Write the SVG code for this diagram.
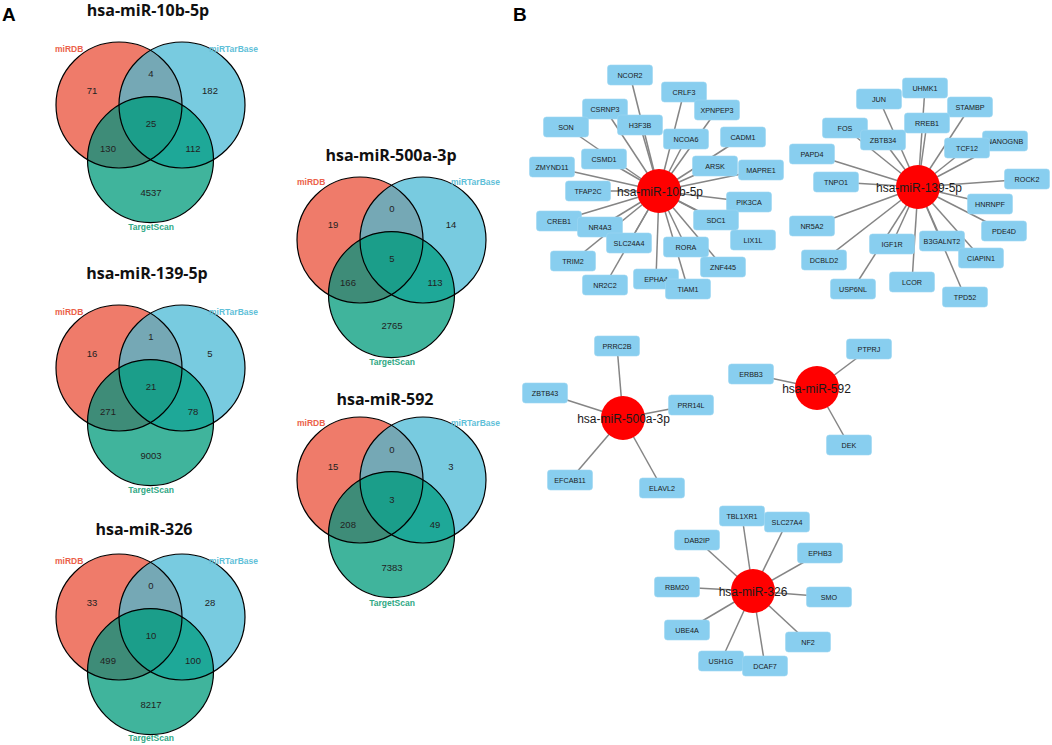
<svg xmlns="http://www.w3.org/2000/svg" xmlns:xlink="http://www.w3.org/1999/xlink" width="1052" height="745" viewBox="0 0 1052 745">
<style>
.panel{font-family:"Liberation Sans",Arial,sans-serif;font-weight:bold;font-size:19px;fill:#000}
.title{font-family:"Open Sans","Liberation Sans",sans-serif;font-weight:bold;font-size:16px;fill:#111;text-anchor:middle}
.num{font-family:"Liberation Sans",Arial,sans-serif;font-size:9.5px;fill:#222;text-anchor:middle}
.lr{font-family:"Liberation Sans",Arial,sans-serif;font-weight:bold;font-size:8.5px;fill:#EB5F4A}
.lb{font-family:"Liberation Sans",Arial,sans-serif;font-weight:bold;font-size:8.5px;fill:#5FC0D8}
.lg{font-family:"Liberation Sans",Arial,sans-serif;font-weight:bold;font-size:8.5px;fill:#2FA884;text-anchor:middle}
.ol{fill:none;stroke:#000;stroke-width:1.2}
.edge{stroke:#858585;stroke-width:1.5}
.gene{fill:#88CEEF;stroke:#9ED6F2;stroke-width:0.6}
.gt{font-family:"Liberation Sans",Arial,sans-serif;font-size:7.2px;fill:#1a1a1a;text-anchor:middle}
.mir{fill:#FF0000}
.mt{font-family:"Liberation Sans",Arial,sans-serif;font-size:12px;fill:#1a1a1a;text-anchor:middle}
</style>
<defs>
<clipPath id="cR" clipPathUnits="userSpaceOnUse"><circle cx="0" cy="0" r="63"/></clipPath>
<clipPath id="cB" clipPathUnits="userSpaceOnUse"><circle cx="63" cy="0" r="63"/></clipPath>
<g id="vshape">
<circle cx="0" cy="0" r="63" fill="#EF7B6A"/>
<circle cx="63" cy="0" r="63" fill="#78CBE0"/>
<circle cx="31.5" cy="54.6" r="63" fill="#40B49C"/>
<circle cx="63" cy="0" r="63" fill="#75A8B5" clip-path="url(#cR)"/>
<circle cx="31.5" cy="54.6" r="63" fill="#3E8C78" clip-path="url(#cR)"/>
<circle cx="31.5" cy="54.6" r="63" fill="#1EA898" clip-path="url(#cB)"/>
<g clip-path="url(#cR)"><circle cx="31.5" cy="54.6" r="63" fill="#1B9E8A" clip-path="url(#cB)"/></g>
<circle class="ol" cx="0" cy="0" r="63"/>
<circle class="ol" cx="63" cy="0" r="63"/>
<circle class="ol" cx="31.5" cy="54.6" r="63"/>
</g>
</defs>
<rect width="1052" height="745" fill="#fff"/>
<text class="panel" x="2" y="21">A</text>
<text class="panel" x="513" y="21">B</text>

<g id="venn-10b" transform="translate(119,105)">
<text class="title" x="29" y="-89">hsa-miR-10b-5p</text>
<use xlink:href="#vshape" href="#vshape"/>
<text class="lr" x="-64" y="-53">miRDB</text>
<text class="lb" x="90" y="-53">miRTarBase</text>
<text class="lg" x="32" y="125">TargetScan</text>
<text class="num" x="-27" y="-11.5">71</text>
<text class="num" x="32" y="-28.5">4</text>
<text class="num" x="91" y="-11.5">182</text>
<text class="num" x="32" y="21.5">25</text>
<text class="num" x="-11" y="46.5">130</text>
<text class="num" x="74" y="46.5">112</text>
<text class="num" x="32" y="90.5">4537</text>
</g>

<g id="venn-139" transform="translate(119,368)">
<text class="title" x="28" y="-89">hsa-miR-139-5p</text>
<use xlink:href="#vshape" href="#vshape"/>
<text class="lr" x="-64" y="-53">miRDB</text>
<text class="lb" x="90" y="-53">miRTarBase</text>
<text class="lg" x="32" y="125">TargetScan</text>
<text class="num" x="-27" y="-11.5">16</text>
<text class="num" x="32" y="-28.5">1</text>
<text class="num" x="91" y="-11.5">5</text>
<text class="num" x="32" y="21.5">21</text>
<text class="num" x="-11" y="46.5">271</text>
<text class="num" x="74" y="46.5">78</text>
<text class="num" x="32" y="90.5">9003</text>
</g>

<g id="venn-326" transform="translate(119,617)">
<text class="title" x="25" y="-82">hsa-miR-326</text>
<use xlink:href="#vshape" href="#vshape"/>
<text class="lr" x="-64" y="-53">miRDB</text>
<text class="lb" x="90" y="-53">miRTarBase</text>
<text class="lg" x="32" y="124">TargetScan</text>
<text class="num" x="-27" y="-11.5">33</text>
<text class="num" x="32" y="-28.5">0</text>
<text class="num" x="91" y="-11.5">28</text>
<text class="num" x="32" y="21.5">10</text>
<text class="num" x="-11" y="46.5">499</text>
<text class="num" x="74" y="46.5">100</text>
<text class="num" x="32" y="90.5">8217</text>
</g>

<g id="venn-500a" transform="translate(360,240)">
<text class="title" x="31" y="-79">hsa-miR-500a-3p</text>
<use xlink:href="#vshape" href="#vshape"/>
<text class="lr" x="-63" y="-55">miRDB</text>
<text class="lb" x="91" y="-55">miRTarBase</text>
<text class="lg" x="32" y="125">TargetScan</text>
<text class="num" x="-27" y="-12.5">19</text>
<text class="num" x="32" y="-28.5">0</text>
<text class="num" x="91" y="-12.5">14</text>
<text class="num" x="32" y="21.5">5</text>
<text class="num" x="-12" y="45.5">166</text>
<text class="num" x="75" y="45.5">113</text>
<text class="num" x="32" y="88.5">2765</text>
</g>

<g id="venn-592" transform="translate(360,480)">
<text class="title" x="25" y="-75">hsa-miR-592</text>
<use xlink:href="#vshape" href="#vshape"/>
<text class="lr" x="-63" y="-54">miRDB</text>
<text class="lb" x="91" y="-54">miRTarBase</text>
<text class="lg" x="32" y="126">TargetScan</text>
<text class="num" x="-27" y="-10.5">15</text>
<text class="num" x="32" y="-27.5">0</text>
<text class="num" x="91" y="-10.5">3</text>
<text class="num" x="32" y="22.5">3</text>
<text class="num" x="-12" y="47.5">208</text>
<text class="num" x="75" y="47.5">49</text>
<text class="num" x="32" y="90.5">7383</text>
</g>

<g id="edges">
<line class="edge" x1="659" y1="191" x2="630" y2="75"/>
<line class="edge" x1="659" y1="191" x2="684" y2="92"/>
<line class="edge" x1="659" y1="191" x2="717" y2="110"/>
<line class="edge" x1="659" y1="191" x2="605" y2="109"/>
<line class="edge" x1="659" y1="191" x2="640" y2="125"/>
<line class="edge" x1="659" y1="191" x2="566" y2="127"/>
<line class="edge" x1="659" y1="191" x2="686" y2="139"/>
<line class="edge" x1="659" y1="191" x2="743" y2="137"/>
<line class="edge" x1="659" y1="191" x2="604" y2="159"/>
<line class="edge" x1="659" y1="191" x2="552" y2="167"/>
<line class="edge" x1="659" y1="191" x2="715" y2="166"/>
<line class="edge" x1="659" y1="191" x2="761" y2="170"/>
<line class="edge" x1="659" y1="191" x2="588" y2="191"/>
<line class="edge" x1="659" y1="191" x2="749" y2="202"/>
<line class="edge" x1="659" y1="191" x2="559" y2="221"/>
<line class="edge" x1="659" y1="191" x2="600" y2="227"/>
<line class="edge" x1="659" y1="191" x2="716" y2="220"/>
<line class="edge" x1="659" y1="191" x2="753" y2="240"/>
<line class="edge" x1="659" y1="191" x2="629" y2="243"/>
<line class="edge" x1="659" y1="191" x2="686" y2="247"/>
<line class="edge" x1="659" y1="191" x2="573" y2="261"/>
<line class="edge" x1="659" y1="191" x2="723" y2="267"/>
<line class="edge" x1="659" y1="191" x2="656" y2="279"/>
<line class="edge" x1="659" y1="191" x2="605" y2="285"/>
<line class="edge" x1="659" y1="191" x2="688" y2="289"/>

<line class="edge" x1="918" y1="187" x2="925" y2="88"/>
<line class="edge" x1="918" y1="187" x2="879" y2="99"/>
<line class="edge" x1="918" y1="187" x2="970" y2="107"/>
<line class="edge" x1="918" y1="187" x2="927" y2="123"/>
<line class="edge" x1="918" y1="187" x2="845" y2="128"/>
<line class="edge" x1="918" y1="187" x2="883" y2="140"/>
<line class="edge" x1="918" y1="187" x2="1005" y2="141"/>
<line class="edge" x1="918" y1="187" x2="967" y2="148"/>
<line class="edge" x1="918" y1="187" x2="812" y2="154"/>
<line class="edge" x1="918" y1="187" x2="836" y2="182"/>
<line class="edge" x1="918" y1="187" x2="1027" y2="179"/>
<line class="edge" x1="918" y1="187" x2="990" y2="204"/>
<line class="edge" x1="918" y1="187" x2="812" y2="226"/>
<line class="edge" x1="918" y1="187" x2="1004" y2="231"/>
<line class="edge" x1="918" y1="187" x2="892" y2="244"/>
<line class="edge" x1="918" y1="187" x2="942" y2="241"/>
<line class="edge" x1="918" y1="187" x2="824" y2="260"/>
<line class="edge" x1="918" y1="187" x2="981" y2="258"/>
<line class="edge" x1="918" y1="187" x2="853" y2="289"/>
<line class="edge" x1="918" y1="187" x2="912" y2="282"/>
<line class="edge" x1="918" y1="187" x2="965" y2="297"/>

<line class="edge" x1="623" y1="418" x2="617" y2="346"/>
<line class="edge" x1="623" y1="418" x2="545" y2="393"/>
<line class="edge" x1="623" y1="418" x2="691" y2="405"/>
<line class="edge" x1="623" y1="418" x2="570" y2="480"/>
<line class="edge" x1="623" y1="418" x2="662" y2="488"/>

<line class="edge" x1="817" y1="388" x2="869" y2="349"/>
<line class="edge" x1="817" y1="388" x2="751" y2="374"/>
<line class="edge" x1="817" y1="388" x2="849" y2="445"/>

<line class="edge" x1="753" y1="591" x2="742" y2="516"/>
<line class="edge" x1="753" y1="591" x2="787" y2="522"/>
<line class="edge" x1="753" y1="591" x2="697" y2="540"/>
<line class="edge" x1="753" y1="591" x2="820" y2="553"/>
<line class="edge" x1="753" y1="591" x2="677" y2="587"/>
<line class="edge" x1="753" y1="591" x2="829" y2="597"/>
<line class="edge" x1="753" y1="591" x2="687" y2="630"/>
<line class="edge" x1="753" y1="591" x2="808" y2="642"/>
<line class="edge" x1="753" y1="591" x2="721" y2="661"/>
<line class="edge" x1="753" y1="591" x2="765" y2="666"/>
</g>

<!-- hsa-miR-10b-5p targets -->
<g id="n-NCOR2"><rect class="gene" x="607.5" y="65" width="45" height="20" rx="3"/><text class="gt" x="630" y="77.5">NCOR2</text></g>
<g id="n-CRLF3"><rect class="gene" x="661.5" y="82" width="45" height="20" rx="3"/><text class="gt" x="684" y="94.5">CRLF3</text></g>
<g id="n-XPNPEP3"><rect class="gene" x="694.5" y="100" width="45" height="20" rx="3"/><text class="gt" x="717" y="112.5">XPNPEP3</text></g>
<g id="n-CSRNP3"><rect class="gene" x="582.5" y="99" width="45" height="20" rx="3"/><text class="gt" x="605" y="111.5">CSRNP3</text></g>
<g id="n-H3F3B"><rect class="gene" x="617.5" y="115" width="45" height="20" rx="3"/><text class="gt" x="640" y="127.5">H3F3B</text></g>
<g id="n-SON"><rect class="gene" x="543.5" y="117" width="45" height="20" rx="3"/><text class="gt" x="566" y="129.5">SON</text></g>
<g id="n-NCOA6"><rect class="gene" x="663.5" y="129" width="45" height="20" rx="3"/><text class="gt" x="686" y="141.5">NCOA6</text></g>
<g id="n-CADM1"><rect class="gene" x="720.5" y="127" width="45" height="20" rx="3"/><text class="gt" x="743" y="139.5">CADM1</text></g>
<g id="n-CSMD1"><rect class="gene" x="581.5" y="149" width="45" height="20" rx="3"/><text class="gt" x="604" y="161.5">CSMD1</text></g>
<g id="n-ZMYND11"><rect class="gene" x="529.5" y="157" width="45" height="20" rx="3"/><text class="gt" x="552" y="169.5">ZMYND11</text></g>
<g id="n-ARSK"><rect class="gene" x="692.5" y="156" width="45" height="20" rx="3"/><text class="gt" x="715" y="168.5">ARSK</text></g>
<g id="n-MAPRE1"><rect class="gene" x="738.5" y="160" width="45" height="20" rx="3"/><text class="gt" x="761" y="172.5">MAPRE1</text></g>
<g id="n-TFAP2C"><rect class="gene" x="565.5" y="181" width="45" height="20" rx="3"/><text class="gt" x="588" y="193.5">TFAP2C</text></g>
<g id="n-PIK3CA"><rect class="gene" x="726.5" y="192" width="45" height="20" rx="3"/><text class="gt" x="749" y="204.5">PIK3CA</text></g>
<g id="n-CREB1"><rect class="gene" x="536.5" y="211" width="45" height="20" rx="3"/><text class="gt" x="559" y="223.5">CREB1</text></g>
<g id="n-NR4A3"><rect class="gene" x="577.5" y="217" width="45" height="20" rx="3"/><text class="gt" x="600" y="229.5">NR4A3</text></g>
<g id="n-LIX1L"><rect class="gene" x="730.5" y="230" width="45" height="20" rx="3"/><text class="gt" x="753" y="242.5">LIX1L</text></g>
<g id="n-SDC1"><rect class="gene" x="693.5" y="210" width="45" height="20" rx="3"/><text class="gt" x="716" y="222.5">SDC1</text></g>
<g id="n-SLC24A4"><rect class="gene" x="606.5" y="233" width="45" height="20" rx="3"/><text class="gt" x="629" y="245.5">SLC24A4</text></g>
<g id="n-RORA"><rect class="gene" x="663.5" y="237" width="45" height="20" rx="3"/><text class="gt" x="686" y="249.5">RORA</text></g>
<g id="n-TRIM2"><rect class="gene" x="550.5" y="251" width="45" height="20" rx="3"/><text class="gt" x="573" y="263.5">TRIM2</text></g>
<g id="n-ZNF445"><rect class="gene" x="700.5" y="257" width="45" height="20" rx="3"/><text class="gt" x="723" y="269.5">ZNF445</text></g>
<g id="n-EPHA4"><rect class="gene" x="633.5" y="269" width="45" height="20" rx="3"/><text class="gt" x="656" y="281.5">EPHA4</text></g>
<g id="n-NR2C2"><rect class="gene" x="582.5" y="275" width="45" height="20" rx="3"/><text class="gt" x="605" y="287.5">NR2C2</text></g>
<g id="n-TIAM1"><rect class="gene" x="665.5" y="279" width="45" height="20" rx="3"/><text class="gt" x="688" y="291.5">TIAM1</text></g>
<g id="n-hsa-miR-10b-5p"><circle class="mir" cx="659" cy="191" r="22"/><text class="mt" x="660" y="195.5">hsa-miR-10b-5p</text></g>

<!-- hsa-miR-139-5p targets -->
<g id="n-UHMK1"><rect class="gene" x="902.5" y="78" width="45" height="20" rx="3"/><text class="gt" x="925" y="90.5">UHMK1</text></g>
<g id="n-JUN"><rect class="gene" x="856.5" y="89" width="45" height="20" rx="3"/><text class="gt" x="879" y="101.5">JUN</text></g>
<g id="n-STAMBP"><rect class="gene" x="947.5" y="97" width="45" height="20" rx="3"/><text class="gt" x="970" y="109.5">STAMBP</text></g>
<g id="n-FOS"><rect class="gene" x="822.5" y="118" width="45" height="20" rx="3"/><text class="gt" x="845" y="130.5">FOS</text></g>
<g id="n-ZBTB34"><rect class="gene" x="860.5" y="130" width="45" height="20" rx="3"/><text class="gt" x="883" y="142.5">ZBTB34</text></g>
<g id="n-RREB1"><rect class="gene" x="904.5" y="113" width="45" height="20" rx="3"/><text class="gt" x="927" y="125.5">RREB1</text></g>
<g id="n-NANOGNB"><rect class="gene" x="982.5" y="131" width="45" height="20" rx="3"/><text class="gt" x="1005" y="143.5">NANOGNB</text></g>
<g id="n-TCF12"><rect class="gene" x="944.5" y="138" width="45" height="20" rx="3"/><text class="gt" x="967" y="150.5">TCF12</text></g>
<g id="n-PAPD4"><rect class="gene" x="789.5" y="144" width="45" height="20" rx="3"/><text class="gt" x="812" y="156.5">PAPD4</text></g>
<g id="n-TNPO1"><rect class="gene" x="813.5" y="172" width="45" height="20" rx="3"/><text class="gt" x="836" y="184.5">TNPO1</text></g>
<g id="n-ROCK2"><rect class="gene" x="1004.5" y="169" width="45" height="20" rx="3"/><text class="gt" x="1027" y="181.5">ROCK2</text></g>
<g id="n-HNRNPF"><rect class="gene" x="967.5" y="194" width="45" height="20" rx="3"/><text class="gt" x="990" y="206.5">HNRNPF</text></g>
<g id="n-NR5A2"><rect class="gene" x="789.5" y="216" width="45" height="20" rx="3"/><text class="gt" x="812" y="228.5">NR5A2</text></g>
<g id="n-PDE4D"><rect class="gene" x="981.5" y="221" width="45" height="20" rx="3"/><text class="gt" x="1004" y="233.5">PDE4D</text></g>
<g id="n-IGF1R"><rect class="gene" x="869.5" y="234" width="45" height="20" rx="3"/><text class="gt" x="892" y="246.5">IGF1R</text></g>
<g id="n-B3GALNT2"><rect class="gene" x="919.5" y="231" width="45" height="20" rx="3"/><text class="gt" x="942" y="243.5">B3GALNT2</text></g>
<g id="n-CIAPIN1"><rect class="gene" x="958.5" y="248" width="45" height="20" rx="3"/><text class="gt" x="981" y="260.5">CIAPIN1</text></g>
<g id="n-DCBLD2"><rect class="gene" x="801.5" y="250" width="45" height="20" rx="3"/><text class="gt" x="824" y="262.5">DCBLD2</text></g>
<g id="n-USP6NL"><rect class="gene" x="830.5" y="279" width="45" height="20" rx="3"/><text class="gt" x="853" y="291.5">USP6NL</text></g>
<g id="n-LCOR"><rect class="gene" x="889.5" y="272" width="45" height="20" rx="3"/><text class="gt" x="912" y="284.5">LCOR</text></g>
<g id="n-TPD52"><rect class="gene" x="942.5" y="287" width="45" height="20" rx="3"/><text class="gt" x="965" y="299.5">TPD52</text></g>
<g id="n-hsa-miR-139-5p"><circle class="mir" cx="918" cy="187" r="22"/><text class="mt" x="919" y="191.5">hsa-miR-139-5p</text></g>

<!-- hsa-miR-500a-3p targets -->
<g id="n-PRRC2B"><rect class="gene" x="594.5" y="336" width="45" height="20" rx="3"/><text class="gt" x="617" y="348.5">PRRC2B</text></g>
<g id="n-ZBTB43"><rect class="gene" x="522.5" y="383" width="45" height="20" rx="3"/><text class="gt" x="545" y="395.5">ZBTB43</text></g>
<g id="n-PRR14L"><rect class="gene" x="668.5" y="395" width="45" height="20" rx="3"/><text class="gt" x="691" y="407.5">PRR14L</text></g>
<g id="n-EFCAB11"><rect class="gene" x="547.5" y="470" width="45" height="20" rx="3"/><text class="gt" x="570" y="482.5">EFCAB11</text></g>
<g id="n-ELAVL2"><rect class="gene" x="639.5" y="478" width="45" height="20" rx="3"/><text class="gt" x="662" y="490.5">ELAVL2</text></g>
<g id="n-hsa-miR-500a-3p"><circle class="mir" cx="623" cy="418" r="22"/><text class="mt" x="623.5" y="422.5">hsa-miR-500a-3p</text></g>

<!-- hsa-miR-592 targets -->
<g id="n-PTPRJ"><rect class="gene" x="846.5" y="339" width="45" height="20" rx="3"/><text class="gt" x="869" y="351.5">PTPRJ</text></g>
<g id="n-ERBB3"><rect class="gene" x="728.5" y="364" width="45" height="20" rx="3"/><text class="gt" x="751" y="376.5">ERBB3</text></g>
<g id="n-DEK"><rect class="gene" x="826.5" y="435" width="45" height="20" rx="3"/><text class="gt" x="849" y="447.5">DEK</text></g>
<g id="n-hsa-miR-592"><circle class="mir" cx="817" cy="388" r="22"/><text class="mt" x="816.5" y="392.5">hsa-miR-592</text></g>

<!-- hsa-miR-326 targets -->
<g id="n-TBL1XR1"><rect class="gene" x="719.5" y="506" width="45" height="20" rx="3"/><text class="gt" x="742" y="518.5">TBL1XR1</text></g>
<g id="n-SLC27A4"><rect class="gene" x="764.5" y="512" width="45" height="20" rx="3"/><text class="gt" x="787" y="524.5">SLC27A4</text></g>
<g id="n-DAB2IP"><rect class="gene" x="674.5" y="530" width="45" height="20" rx="3"/><text class="gt" x="697" y="542.5">DAB2IP</text></g>
<g id="n-EPHB3"><rect class="gene" x="797.5" y="543" width="45" height="20" rx="3"/><text class="gt" x="820" y="555.5">EPHB3</text></g>
<g id="n-RBM20"><rect class="gene" x="654.5" y="577" width="45" height="20" rx="3"/><text class="gt" x="677" y="589.5">RBM20</text></g>
<g id="n-SMO"><rect class="gene" x="806.5" y="587" width="45" height="20" rx="3"/><text class="gt" x="829" y="599.5">SMO</text></g>
<g id="n-UBE4A"><rect class="gene" x="664.5" y="620" width="45" height="20" rx="3"/><text class="gt" x="687" y="632.5">UBE4A</text></g>
<g id="n-NF2"><rect class="gene" x="785.5" y="632" width="45" height="20" rx="3"/><text class="gt" x="808" y="644.5">NF2</text></g>
<g id="n-USH1G"><rect class="gene" x="698.5" y="651" width="45" height="20" rx="3"/><text class="gt" x="721" y="663.5">USH1G</text></g>
<g id="n-DCAF7"><rect class="gene" x="742.5" y="656" width="45" height="20" rx="3"/><text class="gt" x="765" y="668.5">DCAF7</text></g>
<g id="n-hsa-miR-326"><circle class="mir" cx="753" cy="591" r="22"/><text class="mt" x="753" y="595.5">hsa-miR-326</text></g>
</svg>
